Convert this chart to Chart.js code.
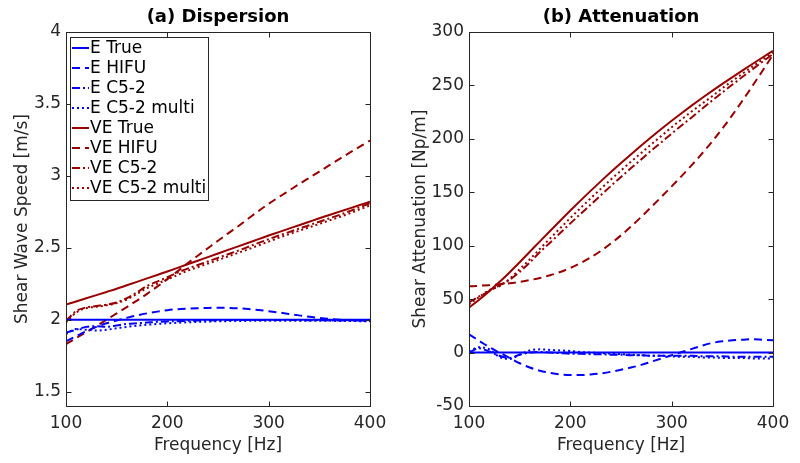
<!DOCTYPE html>
<html>
<head>
<meta charset="utf-8">
<script src="https://cdn.jsdelivr.net/npm/chart.js@4.4.1/dist/chart.umd.min.js"></script>
<style>
  html, body { margin: 0; padding: 0; background: #fff; }
  .wrap { width: 800px; height: 463px; display: flex; }
  canvas { display: block; }
</style>
</head>
<body>
<div class="wrap">
  <canvas id="dispersion" width="400" height="463"></canvas>
  <canvas id="attenuation" width="400" height="463"></canvas>
</div>
<script>
// frequencies shared by every curve [Hz]
var freq = [100, 110, 120, 130, 140, 150, 160, 170, 180, 190,
            200, 210, 220, 230, 240, 250, 260, 270, 280, 290,
            300, 310, 320, 330, 340, 350, 360, 370, 380, 390, 400];

var freqTicks = [100, 200, 300, 400];
var speedTicks = [1.5, 2, 2.5, 3, 3.5, 4];
var attenTicks = [-50, 0, 50, 100, 150, 200, 250, 300];

var labels = ['E True', 'E HIFU', 'E C5-2', 'E C5-2 multi',
              'VE True', 'VE HIFU', 'VE C5-2', 'VE C5-2 multi'];

// (a) shear wave speed [m/s]
var speedETrue = [2, 2, 2, 2, 2, 2, 2, 2, 2, 2,
                  2, 2, 2, 2, 2, 2, 2, 2, 2, 2,
                  2, 2, 2, 2, 2, 2, 2, 2, 2, 2, 2];
var speedEHifu = [1.85, 1.885, 1.92, 1.95, 1.975, 1.995, 2.013, 2.03, 2.044, 2.056,
                  2.066, 2.073, 2.077, 2.08, 2.082, 2.083, 2.082, 2.079, 2.074, 2.067,
                  2.059, 2.05, 2.04, 2.03, 2.02, 2.012, 2.005, 2.0, 1.997, 1.994, 1.992];
var speedEC52 = [1.91, 1.93, 1.95, 1.955, 1.95, 1.96, 1.97, 1.975, 1.98, 1.985,
                 1.988, 1.99, 1.992, 1.994, 1.995, 1.996, 1.997, 1.997, 1.998, 1.998,
                 1.998, 1.998, 1.997, 1.997, 1.996, 1.996, 1.995, 1.995, 1.994, 1.994, 1.993];
var speedEMulti = [1.90, 1.935, 1.93, 1.925, 1.93, 1.94, 1.95, 1.958, 1.965, 1.97,
                   1.975, 1.979, 1.982, 1.985, 1.987, 1.989, 1.99, 1.991, 1.992, 1.993,
                   1.993, 1.993, 1.993, 1.993, 1.993, 1.992, 1.992, 1.991, 1.991, 1.99, 1.99];
var speedVETrue = [2.105, 2.127, 2.149, 2.171, 2.193, 2.215, 2.239, 2.263, 2.287, 2.311,
                   2.335, 2.36, 2.385, 2.41, 2.435, 2.46, 2.485, 2.51, 2.535, 2.56,
                   2.585, 2.609, 2.633, 2.657, 2.681, 2.705, 2.728, 2.751, 2.774, 2.797, 2.82];
var speedVEHifu = [1.83, 1.872, 1.913, 1.956, 2.0, 2.044, 2.088, 2.133, 2.18, 2.23,
                   2.282, 2.336, 2.392, 2.445, 2.497, 2.549, 2.6, 2.65, 2.703, 2.756,
                   2.806, 2.852, 2.897, 2.942, 2.986, 3.03, 3.074, 3.118, 3.161, 3.203, 3.245];
var speedVEC52 = [1.99, 2.06, 2.085, 2.095, 2.105, 2.12, 2.15, 2.19, 2.235, 2.265,
                  2.295, 2.327, 2.355, 2.38, 2.405, 2.43, 2.455, 2.48, 2.507, 2.534,
                  2.56, 2.585, 2.609, 2.633, 2.657, 2.681, 2.705, 2.729, 2.755, 2.782, 2.81];
var speedVEMulti = [1.98, 2.05, 2.08, 2.09, 2.10, 2.115, 2.14, 2.18, 2.22, 2.25,
                    2.28, 2.31, 2.34, 2.365, 2.39, 2.415, 2.44, 2.465, 2.49, 2.517,
                    2.543, 2.57, 2.594, 2.618, 2.642, 2.666, 2.69, 2.714, 2.74, 2.767, 2.795];

// (b) shear attenuation [Np/m]
var attenETrue = [0, 0, 0, 0, 0, 0, 0, 0, 0, 0,
                  0, 0, 0, 0, 0, 0, 0, 0, 0, 0,
                  0, 0, 0, 0, 0, 0, 0, 0, 0, 0, 0];
var attenEHifu = [17, 11, 5, 0, -5, -10, -14, -17, -19, -20.5,
                  -21, -21, -20.5, -19.5, -18, -16, -14, -11.5, -8.5, -5.5,
                  -2.5, 0.5, 3.5, 6.5, 9, 10.5, 11.5, 12, 12.5, 12, 11.5];
var attenEC52 = [0, 4, 1, -3, -5, -2, 0, 0.5, 0, -0.5,
                 -1, -1, -1.5, -1.5, -2, -2, -2.5, -2.5, -3, -3,
                 -3, -3, -3, -3.5, -3.5, -3.5, -4, -4, -4, -4, -4];
var attenEMulti = [1, 5, 3, -4, -6, -2, 2, 3, 2.5, 2,
                   1.5, 0.5, 0, -0.5, -1, -1.5, -2, -2.5, -3, -3,
                   -3.5, -4, -4, -4.5, -4.5, -5, -5, -5, -5.5, -5.5, -5.5];
var attenVETrue = [42, 49.5, 57.5, 66, 75, 84.5, 94.3, 104.1, 113.8, 123.4,
                   132.9, 142.2, 151.3, 160.2, 168.9, 177.4, 185.7, 193.8, 201.7, 209.4,
                   216.9, 224.2, 231.3, 238.2, 244.9, 251.4, 257.8, 264.1, 270.3, 276.4, 282.4];
var attenVEHifu = [62, 62.5, 63.1, 63.9, 64.9, 66.2, 67.8, 69.8, 72.3, 75.4,
                   79.2, 83.7, 89, 95.1, 102, 109.7, 118.1, 127, 136.3, 145.8,
                   155.5, 165.4, 175.6, 186.3, 197.6, 209.6, 222.4, 235.9, 249.9, 264.2, 278.7];
var attenVEC52 = [47, 52.5, 57.5, 63, 68, 75.5, 84.3, 94.1, 102.8, 111.9,
                  120.9, 129.7, 138.3, 147.2, 155.9, 164.4, 172.7, 180.8, 189.2, 196.9,
                  204.9, 212.7, 220.3, 228.2, 235.9, 243.4, 250.8, 258.1, 265.3, 272.4, 279.4];
var attenVEMulti = [45, 52, 58.5, 62, 69, 78, 87.3, 97.1, 106.8, 116.4,
                    125.9, 135.2, 144.3, 153.2, 161.9, 170.4, 178.7, 186.8, 194.9, 202.9,
                    210.9, 218.4, 225.8, 232.9, 239.9, 247.4, 254.3, 261.1, 267.8, 274.4, 280.9];

var BLUE = '#0000ff';
var RED = '#990000';
var AXIS = '#262626';
var FONT = '"DejaVu Sans", sans-serif';

var styles = [
  { color: BLUE, dash: [] },
  { color: BLUE, dash: [8, 5] },
  { color: BLUE, dash: [8, 3, 2, 3] },
  { color: BLUE, dash: [2, 3] },
  { color: RED, dash: [] },
  { color: RED, dash: [8, 5] },
  { color: RED, dash: [8, 3, 2, 3] },
  { color: RED, dash: [2, 3] }
];

function makeDatasets(seriesList) {
  return seriesList.map(function(values, i) {
    return {
      label: labels[i],
      data: freq.map(function(f, j) { return { x: f, y: values[j] }; }),
      borderColor: styles[i].color,
      borderDash: styles[i].dash,
      borderWidth: 2,
      pointRadius: 0,
      cubicInterpolationMode: 'monotone',
      fill: false
    };
  });
}

// box around the axes, inward ticks, panel title and (optionally) legend
function framePlugin(title, showLegend) {
  return {
    id: 'frame',
    afterDraw: function(chart) {
      var ctx = chart.ctx;
      var a = chart.chartArea;
      var xs = chart.scales.x, ys = chart.scales.y;
      var l = Math.round(a.left) + 0.5, r = Math.round(a.right) + 0.5;
      var t = Math.round(a.top) + 0.5, b = Math.round(a.bottom) + 0.5;
      ctx.save();
      ctx.strokeStyle = AXIS;
      ctx.lineWidth = 1;
      ctx.setLineDash([]);
      ctx.strokeRect(l, t, r - l, b - t);
      ctx.beginPath();
      xs.ticks.forEach(function(tk) {
        var px = Math.round(xs.getPixelForValue(tk.value)) + 0.5;
        ctx.moveTo(px, b); ctx.lineTo(px, b - 5);
        ctx.moveTo(px, t); ctx.lineTo(px, t + 5);
      });
      ys.ticks.forEach(function(tk) {
        var py = Math.round(ys.getPixelForValue(tk.value)) + 0.5;
        ctx.moveTo(l, py); ctx.lineTo(l + 5, py);
        ctx.moveTo(r, py); ctx.lineTo(r - 5, py);
      });
      ctx.stroke();

      ctx.fillStyle = '#000';
      ctx.font = 'bold 18px ' + FONT;
      ctx.textAlign = 'center';
      ctx.textBaseline = 'middle';
      ctx.fillText(title, (a.left + a.right) / 2, 17);

      if (showLegend) {
        var bx = 70.5, by = 37.5, bw = 138, bh = 163;
        ctx.fillStyle = '#fff';
        ctx.fillRect(bx, by, bw, bh);
        ctx.strokeStyle = AXIS;
        ctx.strokeRect(bx, by, bw, bh);
        ctx.font = '17px ' + FONT;
        ctx.textAlign = 'left';
        chart.data.datasets.forEach(function(ds, i) {
          var y = 48 + 20 * i;
          ctx.beginPath();
          ctx.strokeStyle = ds.borderColor;
          ctx.lineWidth = 2;
          ctx.setLineDash(ds.borderDash);
          ctx.moveTo(72, y);
          ctx.lineTo(89, y);
          ctx.stroke();
          ctx.setLineDash([]);
          ctx.fillStyle = '#000';
          ctx.fillText(ds.label, 90, y + 1);
        });
      }
      ctx.restore();
    }
  };
}

function makeChart(id, cfg) {
  var tickFont = { family: FONT, size: 17 };
  return new Chart(document.getElementById(id), {
    type: 'line',
    data: { datasets: makeDatasets(cfg.series) },
    options: {
      responsive: false,
      animation: false,
      layout: { padding: { top: 32, right: cfg.rightPad, left: 0, bottom: 0 } },
      plugins: { legend: { display: false }, tooltip: { enabled: false } },
      scales: {
        x: {
          type: 'linear', min: 100, max: 400,
          afterBuildTicks: function(s) { s.ticks = freqTicks.map(function(v) { return { value: v }; }); },
          afterFit: function(s) { s.height = 57; },
          grid: { display: false, drawTicks: false },
          border: { display: false },
          ticks: { font: tickFont, color: AXIS, padding: 7, maxRotation: 0, autoSkip: false,
                   callback: function(v) { return String(v); } },
          title: { display: true, text: 'Frequency [Hz]', font: tickFont, color: AXIS,
                   padding: { top: 0, bottom: 7 } }
        },
        y: {
          min: cfg.ymin, max: cfg.ymax,
          afterBuildTicks: function(s) { s.ticks = cfg.yTicks.map(function(v) { return { value: v }; }); },
          afterFit: function(s) { s.width = cfg.yWidth; },
          grid: { display: false, drawTicks: false },
          border: { display: false },
          ticks: { font: tickFont, color: AXIS, padding: 5, autoSkip: false,
                   callback: function(v) { return String(v); } },
          title: { display: true, text: cfg.yTitle, font: tickFont, color: AXIS,
                   padding: { top: cfg.yTitlePad, bottom: 0 } }
        }
      }
    },
    plugins: [framePlugin(cfg.title, cfg.legend)]
  });
}

makeChart('dispersion', {
  title: '(a) Dispersion',
  yTitle: 'Shear Wave Speed [m/s]',
  series: [speedETrue, speedEHifu, speedEC52, speedEMulti,
           speedVETrue, speedVEHifu, speedVEC52, speedVEMulti],
  yTicks: speedTicks, ymin: 1.4, ymax: 4,
  yWidth: 66, rightPad: 30, yTitlePad: 12, legend: true
});

makeChart('attenuation', {
  title: '(b) Attenuation',
  yTitle: 'Shear Attenuation [Np/m]',
  series: [attenETrue, attenEHifu, attenEC52, attenEMulti,
           attenVETrue, attenVEHifu, attenVEC52, attenVEMulti],
  yTicks: attenTicks, ymin: -50, ymax: 300,
  yWidth: 69, rightPad: 27, yTitlePad: 10, legend: false
});
</script>
</body>
</html>
